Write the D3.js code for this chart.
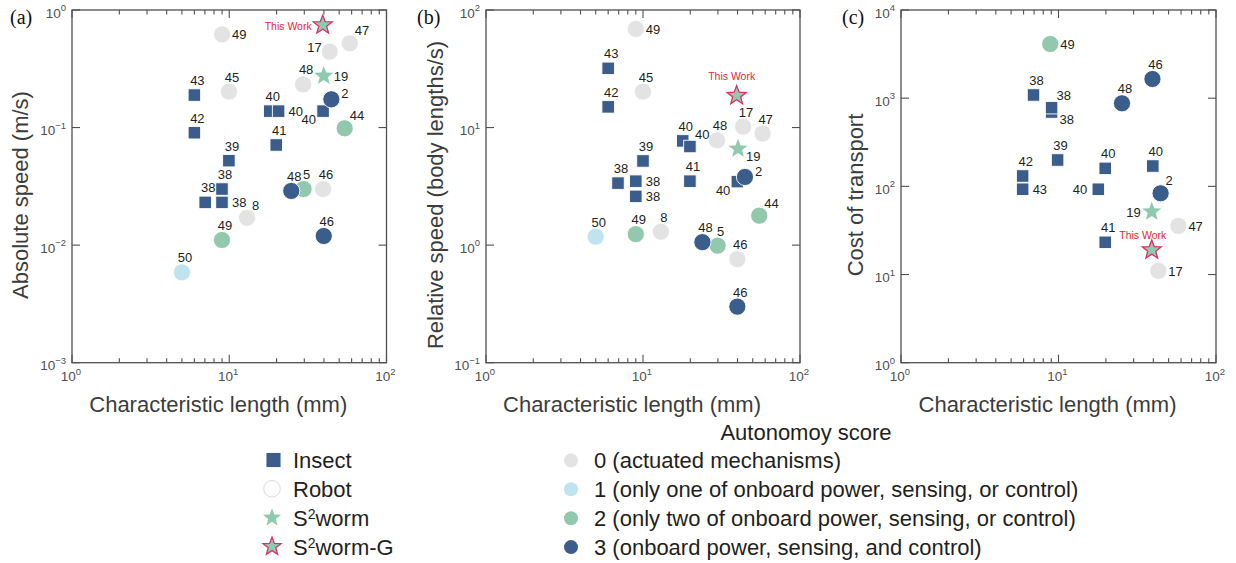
<!DOCTYPE html>
<html>
<head>
<meta charset="utf-8">
<script src="https://cdn.jsdelivr.net/npm/d3@7"></script>
<style>
  body { margin: 0; background: #fff; }
  svg { display: block; font-family: "Liberation Sans", Arial, sans-serif; }
</style>
</head>
<body>
<svg id="chart" width="1236" height="563"></svg>
<script>
// ---------------------------------------------------------------
// Data: reference number, characteristic length (mm), value, class
// class: insect | r0..r3 (robot, autonomy score) | worm | wormG
// ---------------------------------------------------------------

// (a) absolute speed (m/s)
const speedRef    = ["49","This Work","47","17","48","19","45","43","2","40","40","40","44","42","41","39","38","38","38","48","5","46","8","46","49","50"];
const speedLength = [9.0, 39.3, 58.4, 43.5, 29.5, 39.9, 9.95, 6.0, 44.6, 18.1, 20.6, 39.5, 54.2, 6.0, 19.9, 9.95, 8.99, 7.03, 8.99, 24.8, 29.7, 39.5, 12.97, 39.9, 8.99, 5.0];
const speedValue  = [0.621, 0.745, 0.521, 0.442, 0.233, 0.275, 0.202, 0.189, 0.174, 0.138, 0.138, 0.138, 0.0986, 0.0904, 0.0711, 0.0523, 0.0300, 0.0231, 0.0231, 0.0289, 0.0300, 0.0300, 0.0171, 0.01196, 0.01106, 0.00587];
const speedKind   = ["r0","wormG","r0","r0","r0","worm","r0","insect","r3","insect","insect","insect","r2","insect","insect","insect","insect","insect","insect","r3","r2","r0","r0","r3","r2","r1"];

// (b) relative speed (body lengths/s)
const relRef    = ["49","43","45","42","This Work","17","47","48","40","40","19","39","2","40","38","38","38","41","44","50","49","8","48","5","46","46"];
const relLength = [9.0, 6.0, 10.0, 6.0, 39.5, 43.4, 57.8, 29.6, 17.9, 19.9, 40.3, 10.0, 44.6, 39.9, 6.93, 9.0, 9.0, 19.9, 55.0, 5.0, 9.0, 13.0, 23.9, 29.9, 39.9, 39.9];
const relValue  = [69, 31.9, 20.2, 15.0, 18.7, 10.2, 8.9, 7.8, 7.7, 6.9, 6.6, 5.2, 3.8, 3.47, 3.37, 3.5, 2.6, 3.5, 1.78, 1.18, 1.24, 1.30, 1.06, 0.99, 0.76, 0.30];
const relKind   = ["r0","insect","r0","insect","wormG","r0","r0","r0","insect","insect","worm","insect","r3","insect","insect","insect","insect","insect","r2","r1","r2","r0","r3","r2","r0","r3"];

// (c) cost of transport
const cotRef    = ["49","46","38","48","38","38","39","40","40","42","43","40","2","19","47","41","This Work","17"];
const cotLength = [8.86, 39.5, 6.94, 25.3, 9.04, 9.04, 9.87, 19.8, 39.7, 5.92, 5.92, 17.9, 44.5, 39.1, 57.7, 19.8, 39.1, 43.0];
const cotValue  = [4117, 1651, 1087, 875, 697, 780, 199, 160, 170, 131, 92.7, 92.7, 83.5, 51.6, 35.6, 23.2, 19.0, 11.0];
const cotKind   = ["r2","r3","insect","r3","insect","insect","insect","insect","insect","insect","insect","insect","r3","worm","r0","insect","wormG","r0"];

// Axis tick exponents
const xExponents     = [0, 1, 2];
const speedExponents = [-3, -2, -1, 0];
const relExponents   = [-1, 0, 1, 2];
const cotExponents   = [0, 1, 2, 3, 4];

// Legend entries
const typeLegend     = ["Insect", "Robot", "S2worm", "S2worm-G"];
const autonomyLegend = [
  "0 (actuated mechanisms)",
  "1 (only one of onboard power, sensing, or control)",
  "2 (only two of onboard power, sensing, or control)",
  "3 (onboard power, sensing, and control)"
];

// ---------------------------------------------------------------
// Layout and styling
// ---------------------------------------------------------------
// where each point's reference label sits relative to its marker
const speedLabelSide = ["e","w","ne","nw","n","e","n","n","ene","n","e","sw","ne","n","n","n","n","n","e","n","n","n","ne","n","n","n"];
const relLabelSide   = ["e","n","n","n","nh","n","n","n","n","ne","se","n","ene","sw","n","e","e","n","ne","n","n","n","n","n","n","n"];
const cotLabelSide   = ["e","n","n","n","se","ne","n","n","n","n","e","w","ne","w","e","n","nl","e"];

const sideOffsets = {
  n:   [3, -10, "middle"],
  nh:  [-5, -16, "middle"],
  nl:  [-9, -11, "middle"],
  e:   [10, 5, "start"],
  w:   [-11, 5, "end"],
  ne:  [5, -8, "start"],
  ene: [10, -1, "start"],
  nw:  [-8, 0, "end"],
  se:  [8, 12, "start"],
  sw:  [-7, 13, "end"]
};

const kindOrder = ["r0", "r1", "r2", "insect", "r3", "worm", "wormG"];
const fillOf = {
  insect: "#3a5d8c", r0: "#e3e3e3", r1: "#bfe3ef", r2: "#92c8ad",
  r3: "#3a5d8c", worm: "#8dcaae", wormG: "#8dcaae"
};
const axisColor = "#505050";
const tickTextColor = "#505050";
const labelColor = "#231f20";
const redText = "#e8262e";
const starEdge = "#df2f66";

const TOP = 10, BOTTOM = 362.7;
const panels = [
  { tag: "(a)", tagX: 10, left: 72, right: 386.5, titleX: 28, yDomain: [1e-3, 1],
    yExp: speedExponents, yTitle: "Absolute speed (m/s)",
    ref: speedRef, len: speedLength, val: speedValue, kind: speedKind, side: speedLabelSide },
  { tag: "(b)", tagX: 417, left: 486, right: 800, titleX: 443, yDomain: [0.1, 100],
    yExp: relExponents, yTitle: "Relative speed (body lengths/s)",
    ref: relRef, len: relLength, val: relValue, kind: relKind, side: relLabelSide },
  { tag: "(c)", tagX: 842, left: 901, right: 1216, titleX: 863, yDomain: [1, 1e4],
    yExp: cotExponents, yTitle: "Cost of transport",
    ref: cotRef, len: cotLength, val: cotValue, kind: cotKind, side: cotLabelSide }
];

const svg = d3.select("#chart");

function starPath(R) {
  const r = R * 0.42;
  let p = "";
  for (let k = 0; k < 10; k++) {
    const a = -Math.PI / 2 + k * Math.PI / 5;
    const rad = k % 2 ? r : R;
    p += (k ? "L" : "M") + (rad * Math.cos(a)).toFixed(2) + "," + (rad * Math.sin(a)).toFixed(2);
  }
  return p + "Z";
}

function drawMarker(g, kind, cx, cy, big) {
  if (kind === "insect") {
    const s = big ? 15 : 12.5;
    g.append("rect").attr("x", cx - s / 2).attr("y", cy - s / 2)
      .attr("width", s).attr("height", s)
      .attr("fill", fillOf.insect).attr("stroke", "#fff").attr("stroke-width", 0.9);
  } else if (kind === "worm" || kind === "wormG") {
    g.append("path").attr("d", starPath(big ? 9.5 : 10))
      .attr("transform", `translate(${cx},${cy})`)
      .attr("fill", fillOf[kind])
      .attr("stroke", kind === "wormG" ? starEdge : "none")
      .attr("stroke-width", 1.3).attr("stroke-linejoin", "miter");
  } else {
    g.append("circle").attr("cx", cx).attr("cy", cy).attr("r", 8.6)
      .attr("fill", fillOf[kind]).attr("stroke", "#fff").attr("stroke-width", 0.9);
  }
}

// power-of-ten label: "10" with a raised exponent
function powerLabel(sel, exp, bodySize, supSize, rise) {
  sel.append("tspan").text("10").attr("font-size", bodySize);
  sel.append("tspan").text(exp < 0 ? "\u2212" + (-exp) : String(exp))
    .attr("font-size", supSize).attr("dy", -rise);
}

panels.forEach(p => {
  const x = d3.scaleLog().domain([1, 100]).range([p.left, p.right]);
  const y = d3.scaleLog().domain(p.yDomain).range([BOTTOM, TOP]);
  const g = svg.append("g");

  // frame
  g.append("rect").attr("x", p.left).attr("y", TOP)
    .attr("width", p.right - p.left).attr("height", BOTTOM - TOP)
    .attr("fill", "none").attr("stroke", axisColor).attr("stroke-width", 1.3);

  // x ticks: decades plus 2..9 minors, inward on top and bottom
  const xMinor = [];
  [1, 10].forEach(d => { for (let m = 2; m <= 9; m++) xMinor.push(d * m); });
  const xMajor = xExponents.map(e => Math.pow(10, e));
  const ticks = g.append("g").attr("stroke", axisColor).attr("stroke-width", 1.1);
  xMinor.forEach(v => {
    ticks.append("line").attr("x1", x(v)).attr("x2", x(v)).attr("y1", BOTTOM).attr("y2", BOTTOM - 4.5);
    ticks.append("line").attr("x1", x(v)).attr("x2", x(v)).attr("y1", TOP).attr("y2", TOP + 4.5);
  });
  xMajor.forEach(v => {
    ticks.append("line").attr("x1", x(v)).attr("x2", x(v)).attr("y1", BOTTOM).attr("y2", BOTTOM - 8);
    ticks.append("line").attr("x1", x(v)).attr("x2", x(v)).attr("y1", TOP).attr("y2", TOP + 8);
  });
  // y ticks: decades only, inward on left and right
  p.yExp.forEach(e => {
    const v = Math.pow(10, e);
    ticks.append("line").attr("x1", p.left).attr("x2", p.left + 8).attr("y1", y(v)).attr("y2", y(v));
    ticks.append("line").attr("x1", p.right).attr("x2", p.right - 8).attr("y1", y(v)).attr("y2", y(v));
  });

  // tick labels
  xExponents.forEach(e => {
    const t = g.append("text").attr("x", x(Math.pow(10, e)) - 1).attr("y", BOTTOM + 18.5)
      .attr("text-anchor", "middle").attr("fill", tickTextColor);
    powerLabel(t, e, 13.5, 9.5, 6.5);
  });
  p.yExp.forEach(e => {
    const t = g.append("text").attr("x", p.left - 6).attr("y", y(Math.pow(10, e)) + 7.5)
      .attr("text-anchor", "end").attr("fill", tickTextColor);
    powerLabel(t, e, 13.5, 9.5, 6.5);
  });

  // axis titles
  g.append("text").attr("x", (p.left + p.right) / 2 - 11).attr("y", 412)
    .attr("text-anchor", "middle").attr("font-size", 22).attr("fill", "#3c3c3c")
    .text("Characteristic length (mm)");
  g.append("text").attr("transform", `translate(${p.titleX},195) rotate(-90)`)
    .attr("text-anchor", "middle").attr("font-size", 22).attr("fill", "#3c3c3c")
    .text(p.yTitle);

  // panel tag
  g.append("text").attr("x", p.tagX).attr("y", 24)
    .attr("font-family", "'Liberation Serif', 'Times New Roman', serif")
    .attr("font-size", 20).attr("fill", "#111").text(p.tag);

  // points
  const pts = p.ref.map((r, i) => ({
    ref: r, len: p.len[i], val: p.val[i], kind: p.kind[i], side: p.side[i], i
  }));
  const drawOrder = pts.slice().sort((a, b) =>
    kindOrder.indexOf(a.kind) - kindOrder.indexOf(b.kind) || a.i - b.i);
  const marks = g.append("g");
  drawOrder.forEach(d => drawMarker(marks, d.kind, x(d.len), y(d.val), false));

  // reference labels
  const labels = g.append("g");
  pts.forEach(d => {
    const [dx, dy, anchor] = sideOffsets[d.side];
    const isWork = d.ref === "This Work";
    labels.append("text")
      .attr("x", x(d.len) + dx).attr("y", y(d.val) + dy)
      .attr("text-anchor", anchor)
      .attr("font-size", isWork ? 10.5 : 13)
      .attr("fill", isWork ? redText : labelColor)
      .text(d.ref);
  });
});

// ---------------------------------------------------------------
// Legends
// ---------------------------------------------------------------
const legend = svg.append("g").attr("font-size", 22).attr("fill", labelColor);
const rowBase = [468, 496.8, 525.8, 554.6];

// marker type legend
const typeKinds = ["insect", "robot", "worm", "wormG"];
typeLegend.forEach((name, i) => {
  const cy = rowBase[i] - 8;
  if (typeKinds[i] === "robot") {
    legend.append("circle").attr("cx", 272).attr("cy", cy).attr("r", 8.3)
      .attr("fill", "#fff").attr("stroke", "#dcdcdc").attr("stroke-width", 1);
  } else {
    drawMarker(legend, typeKinds[i], typeKinds[i] === "insect" ? 273.5 : 272, cy, true);
  }
  const t = legend.append("text").attr("x", 293).attr("y", rowBase[i]);
  if (name.startsWith("S2")) {
    t.append("tspan").text("S");
    t.append("tspan").text("2").attr("font-size", 14).attr("dy", -7);
    t.append("tspan").text(name.slice(2)).attr("dy", 7);
  } else {
    t.text(name);
  }
});

// autonomy score legend
legend.append("text").attr("x", 806).attr("y", 440).attr("text-anchor", "middle")
  .text("Autonomoy score");
const autonomyKinds = ["r0", "r1", "r2", "r3"];
autonomyLegend.forEach((name, i) => {
  legend.append("circle").attr("cx", 571).attr("cy", rowBase[i] - 7.5).attr("r", 7)
    .attr("fill", fillOf[autonomyKinds[i]]);
  legend.append("text").attr("x", 594).attr("y", rowBase[i]).text(name);
});
</script>
</body>
</html>
